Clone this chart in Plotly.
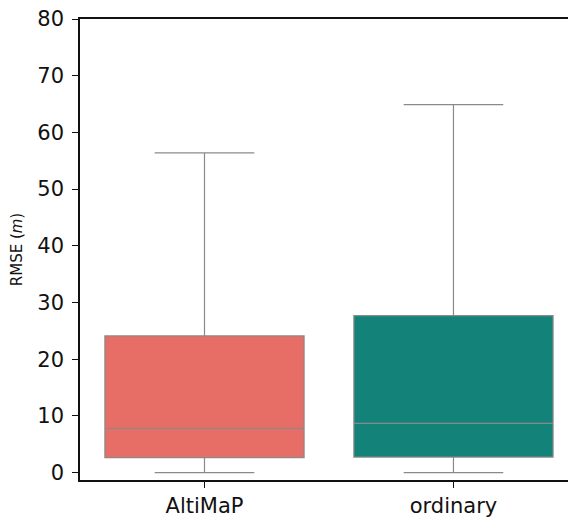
import plotly.graph_objects as go

categories = ["AltiMaP", "ordinary"]
lower = [0.0, 0.0]
q1 = [2.65, 2.75]
median = [7.8, 8.7]
q3 = [24.1, 27.7]
upper = [56.4, 64.9]
colors = ["#E76D67", "#13837A"]

fig = go.Figure()
for i, c in enumerate(categories):
    fig.add_trace(go.Box(
        x=[c], q1=[q1[i]], median=[median[i]], q3=[q3[i]],
        lowerfence=[lower[i]], upperfence=[upper[i]],
        fillcolor=colors[i], line=dict(color="#8a8a8a", width=1.2),
        width=0.8, whiskerwidth=0.5, boxpoints=False, showlegend=False,
        hoverinfo="skip",
    ))

fig.update_layout(
    width=568, height=518,
    margin=dict(l=80, r=0, t=19, b=31),
    plot_bgcolor="white", paper_bgcolor="white",
    font=dict(family="DejaVu Sans", color="#111111"),
)
fig.update_xaxes(
    type="category", range=[-0.5, 1.46],
    showline=True, linecolor="#111111", linewidth=1.5, mirror=True,
    ticks="outside", ticklen=6, tickwidth=1.2, tickcolor="#111111",
    tickfont=dict(size=21), showgrid=False, zeroline=False,
)
fig.update_yaxes(
    range=[-1.3, 80], tickvals=[0, 10, 20, 30, 40, 50, 60, 70, 80],
    showline=True, linecolor="#111111", linewidth=1.5,
    ticks="outside", ticklen=6, tickwidth=1.2, tickcolor="#111111",
    tickfont=dict(size=21), showgrid=False, zeroline=False,
    ticklabelstandoff=4,
    title=dict(text="RMSE (<i>m</i>)", font=dict(size=15), standoff=11),
)
fig.write_html("out.html", config={"displayModeBar": False},
               post_script="document.body.style.margin='0';document.body.style.padding='0';")
